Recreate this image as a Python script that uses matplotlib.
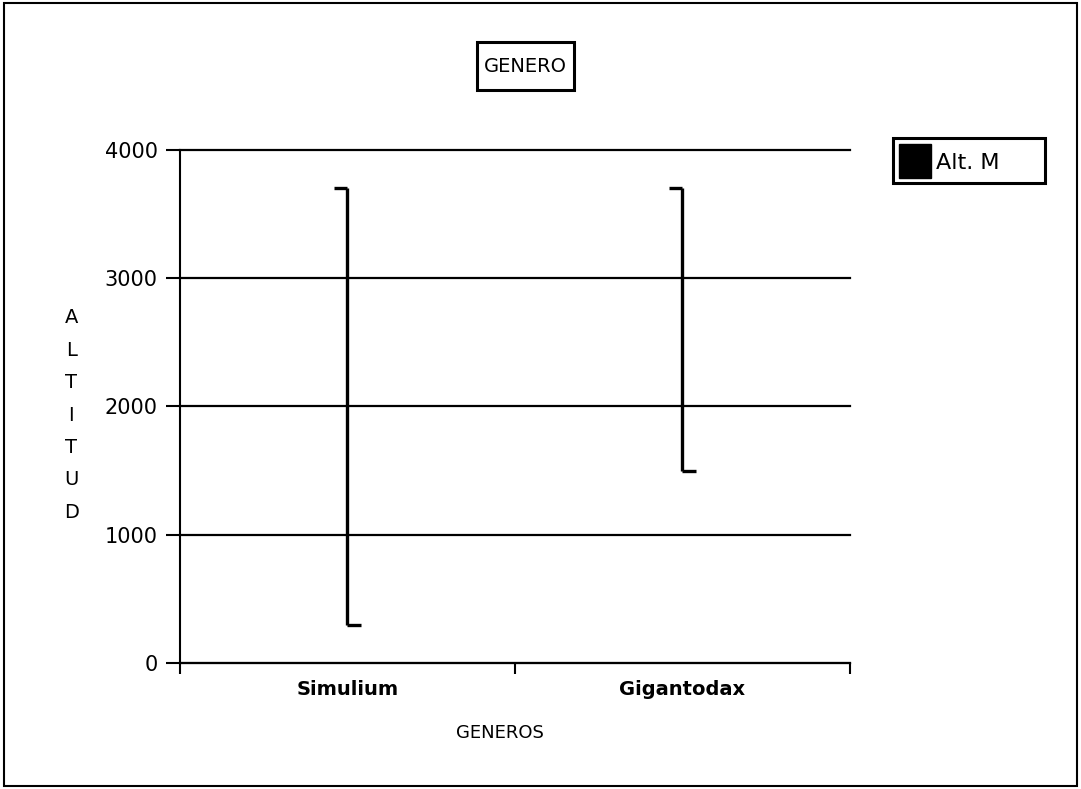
import numpy as np
import matplotlib
matplotlib.use("Agg")
import matplotlib.pyplot as plt
from matplotlib.patches import Rectangle

# altitude ranges per genus (high-low chart)
generos = ["Simulium", "Gigantodax"]
alt_max = [3700, 3700]
alt_min = [300, 1500]
yticks = [0, 1000, 2000, 3000, 4000]

fig = plt.figure(figsize=(10.81, 7.89), dpi=100)
ax = fig.add_axes([0.1665, 0.1597, 0.6198, 0.6502])

x = np.array([0.5, 1.5])
tick_w = 0.04
for xi, hi, lo in zip(x, alt_max, alt_min):
    ax.plot([xi, xi], [lo, hi], color="black", lw=2.4, solid_capstyle="butt")
    ax.plot([xi - tick_w, xi], [hi, hi], color="black", lw=2.4, solid_capstyle="butt")
    ax.plot([xi, xi + tick_w], [lo, lo], color="black", lw=2.4, solid_capstyle="butt")

ax.set_xlim(0, 2)
ax.set_ylim(0, 4000)
ax.set_yticks(yticks)
ax.set_yticklabels([str(v) for v in yticks], fontsize=15)
ax.yaxis.grid(True, color="black", lw=1.6)
for gl in ax.get_ygridlines():
    gl.set_clip_on(False)
ax.set_axisbelow(True)

# major ticks at the category boundaries, labels centred between them
ax.set_xticks([0, 1, 2])
ax.set_xticklabels([])
ax.set_xticks(x, minor=True)
ax.set_xticklabels(generos, minor=True, fontsize=14, fontweight="bold")
ax.tick_params(axis="x", which="minor", length=0, pad=12)
ax.tick_params(axis="x", which="major", length=8, width=1.5, direction="out")
ax.tick_params(axis="y", length=10, width=1.5, pad=6)

for s in ["top", "right"]:
    ax.spines[s].set_visible(False)
ax.spines["left"].set_linewidth(1.5)
ax.spines["bottom"].set_linewidth(1.5)

fig.text(0.4625, 0.071, "GENEROS", fontsize=13, ha="center", va="center")
fig.text(0.066, 0.474, "A\nL\nT\nI\nT\nU\nD", fontsize=14, ha="center", va="center",
         linespacing=1.89)

# title in a box
fig.patches.append(Rectangle((0.441, 0.886), 0.090, 0.061, transform=fig.transFigure,
                             fc="white", ec="black", lw=2.2))
fig.text(0.486, 0.916, "GENERO", fontsize=14, ha="center", va="center")

# legend box
fig.patches.append(Rectangle((0.826, 0.768), 0.141, 0.057, transform=fig.transFigure,
                             fc="white", ec="black", lw=2.2))
fig.patches.append(Rectangle((0.832, 0.774), 0.029, 0.043, transform=fig.transFigure,
                             fc="black", ec="black"))
fig.text(0.866, 0.794, "Alt. M", fontsize=16, ha="left", va="center")

# outer frame
fig.patches.append(Rectangle((0.004, 0.004), 0.992, 0.992, transform=fig.transFigure,
                             fill=False, ec="black", lw=1.5))

fig.savefig("out.png", dpi=100)
